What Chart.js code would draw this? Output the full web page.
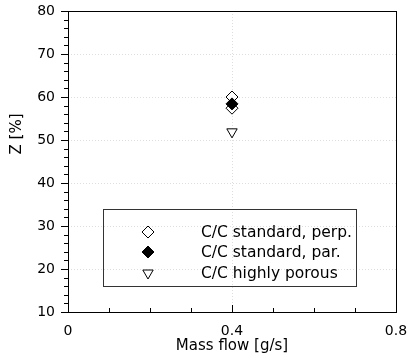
<!DOCTYPE html>
<html>
<head>
<meta charset="utf-8">
<script src="https://cdn.jsdelivr.net/npm/chart.js@4"></script>
<style>
	html, body { margin: 0; padding: 0; background: #fff; }
	#wrap { width: 408px; height: 358px; }
</style>
</head>
<body>
<div id="wrap"><canvas id="zChart"></canvas></div>
<script>
// data
var perpFlow = [0.4, 0.4];
var perpZ = [60.0, 57.4];
var parFlow = [0.4];
var parZ = [58.4];
var porousFlow = [0.4];
var porousZ = [51.9];

var seriesLabels = ['C/C standard, perp.', 'C/C standard, par.', 'C/C highly porous'];
var xTickValues = [0, 0.4, 0.8];
var yTickValues = [10, 20, 30, 40, 50, 60, 70, 80];

var FONT = "'DejaVu Sans', sans-serif";

function toPoints(xs, ys) {
	var pts = [];
	for (var i = 0; i < xs.length; i++) {
		pts.push({ x: xs[i], y: ys[i] });
	}
	return pts;
}

// frame, faint dotted grid, minor ticks, y title and the boxed legend
var decorations = {
	id: 'decorations',
	beforeDatasetsDraw: function(chart) {
		var c = chart.ctx, a = chart.chartArea;
		var xs = chart.scales.x, ys = chart.scales.y;
		c.save();
		c.strokeStyle = 'rgba(0,0,0,0.13)';
		c.lineWidth = 1;
		c.setLineDash([1, 2]);
		for (var i = 1; i < yTickValues.length - 1; i++) {
			var py = Math.round(ys.getPixelForValue(yTickValues[i])) + 0.5;
			c.beginPath(); c.moveTo(a.left, py); c.lineTo(a.right, py); c.stroke();
		}
		var px = Math.round(xs.getPixelForValue(0.4)) + 0.5;
		c.beginPath(); c.moveTo(px, a.top); c.lineTo(px, a.bottom); c.stroke();
		c.restore();
	},
	afterDraw: function(chart) {
		var c = chart.ctx, a = chart.chartArea;
		var xs = chart.scales.x, ys = chart.scales.y;
		c.save();
		c.strokeStyle = '#000';
		c.lineWidth = 1;
		c.strokeRect(Math.round(a.left) + 0.5, Math.round(a.top) + 0.5,
			Math.round(a.right - a.left), Math.round(a.bottom - a.top));

		// minor y ticks, outward
		for (var v = 12; v < 80; v += 2) {
			if (v % 10 === 0) continue;
			var py = Math.round(ys.getPixelForValue(v)) + 0.5;
			c.beginPath(); c.moveTo(a.left - 4, py); c.lineTo(a.left, py); c.stroke();
		}
		// x ticks, inward
		for (var k = 1; k < 8; k++) {
			var px = Math.round(xs.getPixelForValue(k / 10)) + 0.5;
			var len = (k % 4 === 0) ? 7 : 4;
			c.beginPath(); c.moveTo(px, a.bottom); c.lineTo(px, a.bottom - len); c.stroke();
		}

		// y axis title
		c.fillStyle = '#000';
		c.font = '15px ' + FONT;
		c.textAlign = 'center';
		c.textBaseline = 'middle';
		c.translate(17, 134);
		c.rotate(-Math.PI / 2);
		c.fillText('Z [%]', 0, 0);
		c.restore();

		// legend box
		c.save();
		var bx = a.left + 35, by = 209, bw = 253, bh = 77;
		c.strokeStyle = '#333';
		c.lineWidth = 1;
		c.strokeRect(bx + 0.5, by + 0.5, bw, bh);
		var rows = [232, 252, 273];
		c.font = '15.5px ' + FONT;
		c.textAlign = 'left';
		c.textBaseline = 'middle';
		chart.data.datasets.forEach(function(ds, i) {
			var r = rows[ds.legendRow];
			c.fillStyle = ds.pointBackgroundColor;
			c.strokeStyle = ds.pointBorderColor;
			c.lineWidth = 1;
			Chart.helpers.drawPoint(c, {
				pointStyle: ds.pointStyle,
				radius: ds.pointRadius,
				rotation: ds.rotation || 0,
				borderWidth: 1
			}, bx + 45, r);
			c.fillStyle = '#000';
			c.fillText(ds.label, bx + 98, r + 1);
		});
		c.restore();
	}
};

var ctx = document.getElementById('zChart');
var zChart = new Chart(ctx, {
	type: 'scatter',
	data: {
		datasets: [{
			label: seriesLabels[1],
			legendRow: 1,
			data: toPoints(parFlow, parZ),
			pointStyle: 'rectRot',
			pointRadius: 6,
			pointBackgroundColor: '#000',
			pointBorderColor: '#000',
			pointBorderWidth: 1,
			order: 0
		}, {
			label: seriesLabels[0],
			legendRow: 0,
			data: toPoints(perpFlow, perpZ),
			pointStyle: 'rectRot',
			pointRadius: 6,
			pointBackgroundColor: '#fff',
			pointBorderColor: '#000',
			pointBorderWidth: 1,
			order: 1
		}, {
			label: seriesLabels[2],
			legendRow: 2,
			data: toPoints(porousFlow, porousZ),
			pointStyle: 'triangle',
			rotation: 180,
			pointRotation: 180,
			pointRadius: 6,
			pointBackgroundColor: '#fff',
			pointBorderColor: '#000',
			pointBorderWidth: 1,
			order: 2
		}]
	},
	options: {
		responsive: true,
		maintainAspectRatio: false,
		animation: false,
		layout: {
			padding: { top: 11, right: 12, left: 0, bottom: 0 }
		},
		plugins: {
			legend: { display: false },
			tooltip: { enabled: false }
		},
		scales: {
			x: {
				type: 'linear',
				min: 0,
				max: 0.8,
				afterBuildTicks: function(scale) {
					scale.ticks = xTickValues.map(function(v) { return { value: v }; });
				},
				afterFit: function(scale) {
					scale.height = 46;
					scale.paddingLeft = 0;
					scale.paddingRight = 0;
				},
				ticks: {
					autoSkip: false,
					maxRotation: 0,
					padding: 11,
					color: '#000',
					font: { family: FONT, size: 14 },
					callback: function(v) { return String(v); }
				},
				grid: { display: true, drawOnChartArea: false, drawTicks: false },
				border: { color: '#000', width: 1 },
				title: {
					display: true,
					text: 'Mass flow [g/s]',
					color: '#000',
					font: { family: FONT, size: 15 },
					padding: { top: 0, bottom: 3 }
				}
			},
			y: {
				type: 'linear',
				min: 10,
				max: 80,
				afterBuildTicks: function(scale) {
					scale.ticks = yTickValues.map(function(v) { return { value: v }; });
				},
				afterFit: function(scale) {
					scale.width = 68;
					scale.paddingTop = 0;
					scale.paddingBottom = 0;
				},
				ticks: {
					padding: 6,
					color: '#000',
					font: { family: FONT, size: 14 }
				},
				grid: {
					drawOnChartArea: false,
					drawTicks: true,
					tickLength: 7,
					tickColor: '#000'
				},
				border: { color: '#000', width: 1 }
			}
		}
	},
	plugins: [decorations]
});
</script>
</body>
</html>
